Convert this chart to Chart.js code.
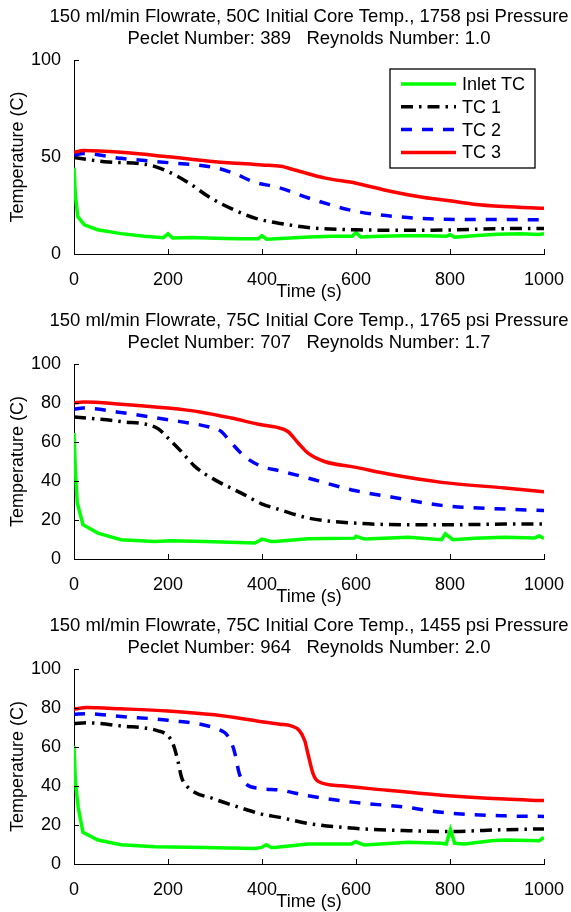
<!DOCTYPE html>
<html>
<head>
<meta charset="utf-8">
<script src="https://cdn.jsdelivr.net/npm/chart.js@4.4.1/dist/chart.umd.min.js"></script>
<style>
  html, body { margin: 0; padding: 0; background: #fff; width: 571px; height: 912px; overflow: hidden; }
  .panel { position: absolute; left: 0; width: 571px; }
</style>
</head>
<body>
<div class="panel" style="top:0;height:304px"><canvas id="c1"></canvas></div>
<div class="panel" style="top:304px;height:305px"><canvas id="c2"></canvas></div>
<div class="panel" style="top:609px;height:305px"><canvas id="c3"></canvas></div>
<script>
// ---- data ----
const seriesNames = ['Inlet TC', 'TC 1', 'TC 2', 'TC 3'];
const timeTicks = [0, 200, 400, 600, 800, 1000];
const tempTicks1 = [0, 50, 100];
const tempTicks23 = [0, 20, 40, 60, 80, 100];

const title1 = ['150 ml/min Flowrate, 50C Initial Core Temp., 1758 psi Pressure', 'Peclet Number: 389   Reynolds Number: 1.0'];
const title2 = ['150 ml/min Flowrate, 75C Initial Core Temp., 1765 psi Pressure', 'Peclet Number: 707   Reynolds Number: 1.7'];
const title3 = ['150 ml/min Flowrate, 75C Initial Core Temp., 1455 psi Pressure', 'Peclet Number: 964   Reynolds Number: 2.0'];

// panel 1
const p1InletTime = [0, 3, 8, 22, 50, 100, 150, 190, 200, 210, 250, 300, 350, 392, 400, 410, 450, 500, 550, 592, 600, 610, 650, 700, 750, 792, 800, 810, 850, 900, 950, 990, 1000];
const p1InletTemp = [44.5, 30, 19.3, 15, 12.5, 10.5, 9.2, 8.4, 10.4, 8.2, 8.5, 8.1, 7.8, 7.8, 9.4, 7.6, 8.1, 8.8, 9.2, 9.2, 11.1, 8.8, 9.2, 9.4, 9.4, 9.1, 9.9, 8.7, 9.4, 10.2, 10.4, 10, 10.6];
const p1Tc1Time = [0, 65, 160, 200, 240, 290, 340, 385, 435, 510, 600, 710, 800, 900, 1000];
const p1Tc1Temp = [49.7, 47.6, 45.9, 42.5, 37.3, 29, 22.8, 18.5, 15.9, 13.4, 12.5, 12.2, 12.4, 13, 13.2];
const p1Tc2Time = [0, 20, 100, 200, 300, 340, 385, 435, 510, 600, 710, 815, 910, 1000];
const p1Tc2Temp = [51, 51.8, 49.3, 47.1, 44.5, 41.6, 37, 34.3, 28, 22, 18.8, 17.8, 17.8, 17.6];
const p1Tc3Time = [0, 20, 100, 200, 300, 400, 440, 470, 535, 600, 675, 745, 795, 850, 915, 1000];
const p1Tc3Temp = [52.4, 53.3, 52.4, 50.1, 47.6, 45.9, 45.2, 43.3, 39.1, 36.5, 32.2, 29.1, 27.6, 25.7, 24.5, 23.6];

// panel 2
const p2InletTime = [0, 3, 7, 19, 51, 100, 172, 207, 278, 385, 400, 420, 427, 498, 597, 600, 618, 711, 782, 790, 806, 852, 917, 980, 990, 1000];
const p2InletTemp = [64.6, 45, 28.7, 17.6, 13.3, 9.9, 9, 9.4, 9, 8.2, 10.2, 9, 9, 10.4, 10.7, 11.6, 10.2, 11.1, 9.9, 12.9, 9.9, 10.7, 11.2, 10.8, 11.8, 10.6];
const p2Tc1Time = [0, 100, 179, 200, 228, 257, 299, 356, 399, 438, 498, 597, 711, 803, 917, 1000];
const p2Tc1Temp = [72.8, 70.5, 66.8, 62, 55.2, 47.5, 40.7, 33.8, 28.3, 25.3, 21, 18.4, 17.6, 17.6, 17.9, 18];
const p2Tc2Time = [0, 20, 100, 200, 292, 313, 335, 363, 399, 438, 498, 597, 675, 782, 917, 1000];
const p2Tc2Temp = [76.8, 77.4, 75.1, 71.4, 67.4, 65.4, 59.5, 52.6, 47.5, 45.2, 41.5, 35.1, 31.8, 27.5, 25.6, 24.9];
const p2Tc3Time = [0, 20, 100, 200, 271, 335, 399, 430, 455, 477, 498, 533, 597, 675, 782, 917, 1000];
const p2Tc3Temp = [80, 80.5, 79.4, 77.4, 75.3, 72.3, 68.8, 67.6, 65.4, 59.5, 54.3, 50, 47.1, 43.3, 39.3, 36.4, 34.5];

// panel 3
const p3InletTime = [0, 3, 9, 19, 51, 100, 172, 278, 385, 399, 409, 420, 427, 498, 590, 599, 618, 711, 782, 792, 801, 810, 831, 888, 917, 990, 1000];
const p3InletTemp = [60.6, 42, 29, 16.2, 12.3, 9.9, 8.9, 8.5, 8, 8.5, 9.9, 8.5, 8.5, 10.2, 10.2, 11.4, 9.7, 11.1, 10.6, 10.2, 17.6, 10.6, 10.2, 11.9, 12.3, 11.9, 13.6];
const p3Tc1Time = [0, 27, 100, 179, 200, 211, 221, 229, 243, 299, 356, 399, 438, 498, 597, 711, 796, 917, 1000];
const p3Tc1Temp = [72, 72.4, 70.8, 68.3, 65.7, 61.4, 52.9, 44.3, 39.2, 33.3, 28.7, 25.6, 23.9, 20.8, 18.3, 17.1, 16.7, 17.6, 18];
const p3Tc2Time = [0, 27, 100, 200, 306, 327, 341, 352, 366, 399, 438, 498, 597, 711, 782, 917, 1000];
const p3Tc2Temp = [76.8, 77.1, 75.6, 73.7, 69.1, 65.7, 58, 46.1, 41, 38.7, 37.9, 35, 31.6, 29, 26.5, 24.7, 24.4];
const p3Tc3Time = [0, 27, 100, 200, 299, 399, 438, 462, 480, 491, 498, 509, 520, 569, 640, 782, 917, 1000];
const p3Tc3Temp = [79.4, 80.2, 79.6, 78.5, 76.5, 73, 71.7, 70.8, 68.3, 63.2, 56.3, 46.1, 42.3, 40.1, 38.4, 35.3, 33.3, 32.5];

// ---- styling ----
const FONT = "'Liberation Sans', Arial, Helvetica, sans-serif";
Chart.defaults.font.family = FONT;
Chart.defaults.color = '#000';

const lineStyles = [
    { color: '#00ff00', dash: [], smooth: false },              // inlet, keeps its spikes sharp
    { color: '#000000', dash: [12, 6, 2.5, 6], smooth: true },  // dash-dot
    { color: '#0000ff', dash: [11, 10], smooth: true },         // dashed
    { color: '#ff0000', dash: [], smooth: true }
];

function toPoints(times, temps) {
    return times.map((t, i) => ({ x: t, y: temps[i] }));
}

// MATLAB style ticks pointing into the axes
const innerTicks = {
    id: 'innerTicks',
    afterDatasetsDraw(chart) {
        const { ctx, chartArea: a, scales: { x, y } } = chart;
        ctx.save();
        ctx.strokeStyle = '#000';
        ctx.lineWidth = 1;
        ctx.beginPath();
        x.ticks.forEach(t => {
            const px = Math.round(x.getPixelForValue(t.value)) + 0.5;
            ctx.moveTo(px, a.bottom);
            ctx.lineTo(px, a.bottom - 5);
        });
        y.ticks.forEach(t => {
            const py = Math.round(y.getPixelForValue(t.value)) + 0.5;
            ctx.moveTo(a.left, py);
            ctx.lineTo(a.left + 5, py);
        });
        ctx.stroke();
        ctx.restore();
    }
};

// two line title centred over the axes (not over the canvas)
const header = {
    id: 'header',
    afterDraw(chart, args, opts) {
        const { ctx, chartArea: a } = chart;
        const cx = (a.left + a.right) / 2;
        ctx.save();
        ctx.font = '18.5px ' + FONT;
        ctx.fillStyle = '#000';
        ctx.textAlign = 'center';
        ctx.textBaseline = 'middle';
        (opts.lines || []).forEach((s, i) => ctx.fillText(s, cx, a.top - 43.5 + i * 22));
        ctx.restore();
    }
};

// boxed legend inside the top right corner
const boxLegend = {
    id: 'boxLegend',
    afterDraw(chart, args, opts) {
        if (!opts.show) return;
        const { ctx, chartArea: a } = chart;
        const w = 145, h = 99;
        const left = a.right - 9 - w, top = a.top + 9;
        ctx.save();
        ctx.fillStyle = '#fff';
        ctx.fillRect(left, top, w, h);
        ctx.strokeStyle = '#000';
        ctx.lineWidth = 1.3;
        ctx.strokeRect(left, top, w, h);
        ctx.font = '18px ' + FONT;
        ctx.textBaseline = 'middle';
        chart.data.datasets.forEach((ds, i) => {
            const yy = top + 15 + i * 22.8;
            ctx.strokeStyle = ds.borderColor;
            ctx.lineWidth = ds.borderWidth;
            ctx.setLineDash(ds.borderDash || []);
            ctx.beginPath();
            ctx.moveTo(left + 11, yy);
            ctx.lineTo(left + 66, yy);
            ctx.stroke();
            ctx.setLineDash([]);
            ctx.fillStyle = '#000';
            ctx.fillText(ds.label, left + 72, yy + 1);
        });
        ctx.restore();
    }
};

function makePanel(id, series, yTicks, titleLines, showLegend) {
    const datasets = series.map((pts, i) => ({
        label: seriesNames[i],
        data: pts,
        borderColor: lineStyles[i].color,
        borderDash: lineStyles[i].dash,
        borderWidth: 3.5,
        pointRadius: 0,
        cubicInterpolationMode: lineStyles[i].smooth ? 'monotone' : 'default',
        tension: 0,
        fill: false,
        order: series.length - i
    }));

    return new Chart(document.getElementById(id), {
        type: 'line',
        data: { datasets },
        options: {
            responsive: true,
            maintainAspectRatio: false,
            animation: false,
            events: [],
            layout: { padding: { top: 60, right: 27, bottom: 0, left: 0 } },
            scales: {
                x: {
                    type: 'linear',
                    min: 0,
                    max: 1000,
                    afterBuildTicks: s => { s.ticks = timeTicks.map(v => ({ value: v })); },
                    afterFit: s => { s.height = 50; s.paddingLeft = 0; s.paddingRight = 0; },
                    grid: { display: false },
                    border: { display: true, color: '#000', width: 1 },
                    ticks: { color: '#000', font: { size: 18 }, padding: 7, maxRotation: 0, callback: v => String(v) },
                    title: { display: true, text: 'Time (s)', color: '#000', font: { size: 18 }, padding: { top: 0, bottom: 1 } }
                },
                y: {
                    min: 0,
                    max: 100,
                    afterBuildTicks: s => { s.ticks = yTicks.map(v => ({ value: v })); },
                    afterFit: s => { s.width = 74; s.paddingTop = 0; s.paddingBottom = 0; },
                    grid: { display: false },
                    border: { display: true, color: '#000', width: 1 },
                    ticks: { color: '#000', font: { size: 18 }, padding: 5, callback: v => String(v) },
                    title: { display: true, text: 'Temperature (C)', color: '#000', font: { size: 18 }, padding: { top: 7.7, bottom: 0 } }
                }
            },
            plugins: {
                legend: { display: false },
                tooltip: { enabled: false },
                header: { lines: titleLines },
                boxLegend: { show: showLegend }
            }
        },
        plugins: [innerTicks, header, boxLegend]
    });
}

makePanel('c1', [
    toPoints(p1InletTime, p1InletTemp),
    toPoints(p1Tc1Time, p1Tc1Temp),
    toPoints(p1Tc2Time, p1Tc2Temp),
    toPoints(p1Tc3Time, p1Tc3Temp)
], tempTicks1, title1, true);

makePanel('c2', [
    toPoints(p2InletTime, p2InletTemp),
    toPoints(p2Tc1Time, p2Tc1Temp),
    toPoints(p2Tc2Time, p2Tc2Temp),
    toPoints(p2Tc3Time, p2Tc3Temp)
], tempTicks23, title2, false);

makePanel('c3', [
    toPoints(p3InletTime, p3InletTemp),
    toPoints(p3Tc1Time, p3Tc1Temp),
    toPoints(p3Tc2Time, p3Tc2Temp),
    toPoints(p3Tc3Time, p3Tc3Temp)
], tempTicks23, title3, false);
</script>
</body>
</html>
